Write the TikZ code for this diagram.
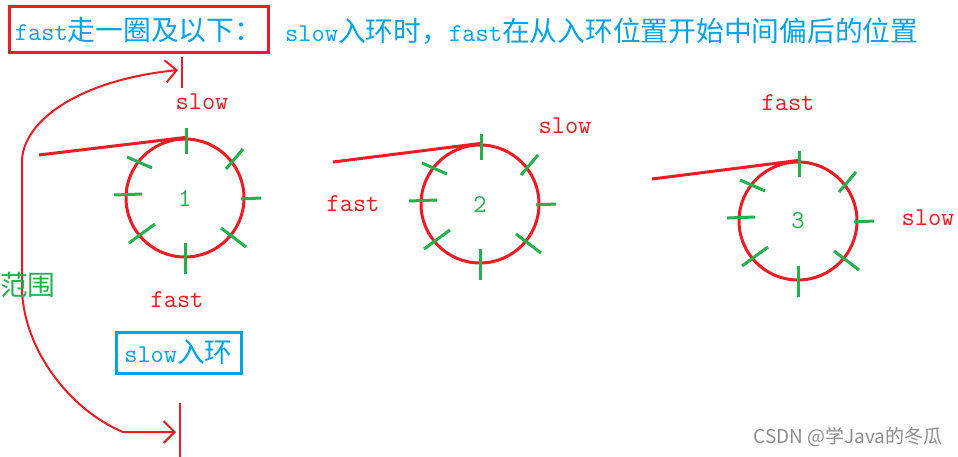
\documentclass[tikz,border=0pt]{standalone}
\usepackage{fontspec}
\newfontfamily\cjk[Scale=1.08]{Noto Sans CJK SC}
\newfontfamily\markfont{Noto Sans CJK SC}
\usetikzlibrary{arrows.meta}
\definecolor{paintred}{HTML}{ED1C24}
\definecolor{paintgreen}{HTML}{22B14C}
\definecolor{paintblue}{HTML}{00A2E8}
\newcommand{\zh}[1]{{\cjk #1}}

\begin{document}
\begin{tikzpicture}[x=1pt,y=-1pt]
  \tikzset{RingStyle/.style = {
    shape         = circle,
    draw          = paintred,
    line width    = 3pt,
    minimum size  = 118pt,
    inner sep     = 0pt,
    text          = paintgreen,
    font          = \ttfamily\fontsize{25.7}{30}\selectfont
    }
  }
  \tikzset{TickStyle/.style = {
    draw          = paintgreen,
    line width    = 3pt
    }
  }
  \tikzset{LabelStyle/.style = {
    text          = paintred,
    inner sep     = 0pt,
    font          = \ttfamily\fontsize{25.7}{30}\selectfont
    }
  }
  \tikzset{NoteStyle/.style = {
    text          = paintblue,
    inner sep     = 0pt,
    font          = \ttfamily\fontsize{25.7}{30}\selectfont
    }
  }
  \tikzset{EnterStyle/.style = {
    draw          = paintred,
    line width    = 3pt
    }
  }
  \tikzset{RangeStyle/.style = {
    draw          = paintred,
    line width    = 2pt
    }
  }

  \useasboundingbox (0,0) rectangle (958,457);

  % header
  \node[NoteStyle, draw=paintred, line width=3pt, minimum width=259pt, minimum height=46pt](H1) at (138.5,30) {fast\zh{走一圈及以下：}};
  \node[NoteStyle, anchor=west](H2) at (285,31) {slow\zh{入环时，}fast\zh{在从入环位置开始中间偏后的位置}};

  % rings
  \node[RingStyle](R1) at (185,198) {1};
  \node[RingStyle](R2) at (480,204) {2};
  \node[RingStyle](R3) at (798,221) {3};
  \foreach \r in {R1,R2,R3}{
    \begin{scope}[shift={(\r.center)}]
      \foreach \ax/\ay/\bx/\by in {1/-70/1/-44, 58/-49/41/-29, 56/1/76/0, 36/30/61/49,
                                  0/45/0/76, -30/26/-56/45, -71/-3/-43/-4, -58/-41/-33/-30}
        \draw[TickStyle] (\ax,\ay) -- (\bx,\by);
    \end{scope}
  }

  % entering lines
  \coordinate (A1) at (39,155);
  \coordinate (A2) at (333,162);
  \coordinate (A3) at (652,179);
  \draw[EnterStyle](A1) -- (R1.north);
  \draw[EnterStyle](A2) -- (R2.north);
  \draw[EnterStyle](A3) -- (R3.north);

  % pointers
  \node[LabelStyle](S1) at (202,102) {slow};
  \node[LabelStyle](F1) at (177,300) {fast};
  \node[LabelStyle](S2) at (565,126) {slow};
  \node[LabelStyle](F2) at (353,204) {fast};
  \node[LabelStyle](F3) at (788,103) {fast};
  \node[LabelStyle](S3) at (928,218) {slow};

  \node[NoteStyle, draw=paintblue, line width=3pt, minimum width=125pt, minimum height=41pt](E1) at (178.5,352.5) {slow\zh{入环}};

  % range
  \coordinate (Hi) at (178,70);
  \coordinate (Lo) at (176,432);
  \draw[RangeStyle, {Straight Barb[length=11pt,width=22pt]}-{Straight Barb[length=11pt,width=22pt]}]
    (Lo) -- (123,432) .. controls (70,410) and (24,350) .. (22,290)
    -- (22,160) .. controls (24,120) and (80,80) .. (Hi);
  \draw[RangeStyle] ([shift={(4,-13)}]Hi) -- ([shift={(4,18)}]Hi);
  \draw[RangeStyle] ([shift={(4,-29)}]Lo) -- ([shift={(4,25)}]Lo);
  \node[text=paintgreen, inner sep=0pt, font=\fontsize{25.7}{30}\selectfont](W1) at (28,285) {\zh{范围}};

  \node[text=black!45, inner sep=0pt, font=\markfont\fontsize{19}{22}\selectfont](M1) at (848,437) {CSDN @学Java的冬瓜};
\end{tikzpicture}
\end{document}
